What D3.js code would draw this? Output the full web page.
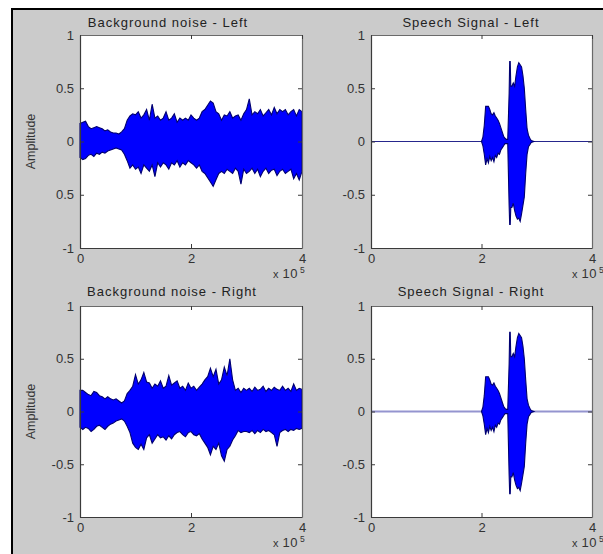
<!DOCTYPE html>
<html>
<head>
<meta charset="utf-8">
<script src="https://cdn.jsdelivr.net/npm/d3@7"></script>
<style>
  html, body { margin: 0; padding: 0; background: #ffffff; }
  svg { display: block; }
  text { font-family: "Liberation Sans", Arial, Helvetica, sans-serif; }
</style>
</head>
<body>
<svg id="chart" width="603" height="554"></svg>
<script>
// ---------------- DATA ----------------
const titles = ["Background noise - Left", "Speech Signal - Left", "Background noise - Right", "Speech Signal - Right"];
const yLabel = "Amplitude";
const xTicks = [0, 200000, 400000];
const xTickLabels = ["0", "2", "4"];
const yTicks = [1, 0.5, 0, -0.5, -1];
const yTickLabelsTopLeft = ["1", "0.5", "0", "0.5", "-1"];
const yTickLabelsOther = ["1", "0.5", "0", "-0.5", "-1"];
const xExponent = "5";

// Noise sample positions (every 5000 samples)
const noiseX = d3.range(0, 400001, 5000);

const noiseLeftUpper = [0.17,0.18,0.19,0.14,0.12,0.13,0.14,0.13,0.12,0.10,0.11,0.09,0.08,0.08,0.07,0.09,0.12,0.20,0.24,0.26,
  0.25,0.28,0.22,0.25,0.30,0.20,0.35,0.22,0.24,0.20,0.22,0.28,0.20,0.22,0.26,0.18,0.22,0.20,0.22,0.20,
  0.25,0.22,0.20,0.22,0.28,0.30,0.34,0.38,0.36,0.28,0.26,0.20,0.25,0.24,0.28,0.22,0.24,0.25,0.20,0.26,
  0.30,0.40,0.25,0.28,0.26,0.30,0.24,0.27,0.30,0.25,0.32,0.26,0.30,0.28,0.30,0.25,0.28,0.30,0.24,0.30,0.28];
const noiseLeftLower = [-0.15,-0.17,-0.16,-0.13,-0.12,-0.14,-0.11,-0.12,-0.10,-0.11,-0.09,-0.08,-0.07,-0.06,-0.07,-0.08,-0.12,-0.18,-0.25,-0.22,
  -0.26,-0.24,-0.30,-0.22,-0.25,-0.28,-0.22,-0.33,-0.20,-0.24,-0.20,-0.22,-0.26,-0.20,-0.22,-0.18,-0.24,-0.20,-0.22,-0.18,
  -0.20,-0.22,-0.25,-0.22,-0.28,-0.30,-0.34,-0.38,-0.42,-0.36,-0.30,-0.28,-0.30,-0.26,-0.28,-0.30,-0.25,-0.28,-0.40,-0.26,
  -0.30,-0.28,-0.25,-0.30,-0.26,-0.33,-0.28,-0.25,-0.30,-0.27,-0.26,-0.32,-0.28,-0.26,-0.30,-0.28,-0.26,-0.35,-0.30,-0.36,-0.28];

const noiseRightUpper = [0.20,0.20,0.18,0.16,0.15,0.19,0.18,0.15,0.14,0.12,0.14,0.12,0.11,0.12,0.10,0.08,0.10,0.17,0.20,0.24,
  0.35,0.26,0.30,0.37,0.28,0.27,0.22,0.26,0.24,0.29,0.22,0.24,0.34,0.25,0.27,0.29,0.22,0.24,0.20,0.27,
  0.22,0.24,0.20,0.23,0.26,0.30,0.33,0.41,0.33,0.40,0.26,0.30,0.42,0.34,0.50,0.30,0.20,0.22,0.18,0.22,
  0.20,0.22,0.19,0.23,0.20,0.21,0.24,0.19,0.22,0.20,0.23,0.21,0.20,0.24,0.20,0.22,0.19,0.26,0.20,0.22,0.21];
const noiseRightLower = [-0.15,-0.17,-0.15,-0.16,-0.19,-0.17,-0.14,-0.13,-0.15,-0.17,-0.14,-0.12,-0.11,-0.09,-0.08,-0.07,-0.09,-0.14,-0.20,-0.30,
  -0.34,-0.36,-0.31,-0.36,-0.25,-0.22,-0.30,-0.26,-0.22,-0.25,-0.24,-0.27,-0.23,-0.26,-0.22,-0.20,-0.19,-0.22,-0.24,-0.20,
  -0.19,-0.22,-0.23,-0.21,-0.26,-0.30,-0.34,-0.41,-0.33,-0.36,-0.30,-0.42,-0.47,-0.36,-0.33,-0.27,-0.23,-0.18,-0.20,-0.19,
  -0.19,-0.20,-0.18,-0.21,-0.18,-0.20,-0.17,-0.19,-0.18,-0.20,-0.22,-0.33,-0.20,-0.18,-0.17,-0.19,-0.17,-0.18,-0.16,-0.17,-0.16];

// Speech sample positions (active region only; the rest of the signal is the zero line)
const speechX = [200000, 202500, 205000, 207500, 210000, 212500, 215000, 217500, 220000, 222500, 225000, 227500, 230000,
  232500, 235000, 237500, 240000, 242500, 245000, 247500, 250000, 251000, 252000, 253000, 255000, 257500, 260000, 262500,
  265000, 267500, 270000, 272500, 275000, 277500, 280000, 282500, 285000, 287500, 290000, 295000];
const speechLeftUpper = [0, 0.04, 0.15, 0.33, 0.33, 0.33, 0.30, 0.26, 0.25, 0.27, 0.24, 0.22, 0.20,
  0.17, 0.13, 0.09, 0.05, 0.03, 0.02, 0.02, 0.45, 0.75, 0.75, 0.52, 0.52, 0.55, 0.52, 0.62,
  0.70, 0.74, 0.72, 0.70, 0.62, 0.50, 0.30, 0.12, 0.06, 0.03, 0.01, 0];
const speechLeftLower = [0, -0.04, -0.12, -0.22, -0.16, -0.20, -0.14, -0.18, -0.15, -0.19, -0.13, -0.15, -0.11,
  -0.12, -0.08, -0.06, -0.04, -0.02, -0.02, -0.02, -0.60, -0.78, -0.78, -0.62, -0.62, -0.58, -0.65, -0.70,
  -0.73, -0.72, -0.75, -0.68, -0.60, -0.52, -0.30, -0.12, -0.05, -0.03, -0.01, 0];
const speechRightUpper = [0, 0.04, 0.15, 0.33, 0.33, 0.33, 0.30, 0.26, 0.25, 0.27, 0.24, 0.22, 0.20,
  0.17, 0.13, 0.09, 0.05, 0.03, 0.02, 0.02, 0.45, 0.75, 0.75, 0.52, 0.52, 0.55, 0.52, 0.62,
  0.70, 0.74, 0.72, 0.70, 0.62, 0.50, 0.30, 0.12, 0.06, 0.03, 0.01, 0];
const speechRightLower = [0, -0.04, -0.12, -0.22, -0.16, -0.20, -0.14, -0.18, -0.15, -0.19, -0.13, -0.15, -0.11,
  -0.12, -0.08, -0.06, -0.04, -0.02, -0.02, -0.02, -0.60, -0.78, -0.78, -0.62, -0.62, -0.58, -0.65, -0.70,
  -0.73, -0.72, -0.75, -0.68, -0.60, -0.52, -0.30, -0.12, -0.05, -0.03, -0.01, 0];

// ---------------- LAYOUT ----------------
const panels = [
  { title: titles[0], xs: noiseX, up: noiseLeftUpper, lo: noiseLeftLower, yLabels: yTickLabelsTopLeft, showYLabel: true,
    left: 80, right: 302, top: 35, bottom: 248, titleX: 168, titleY: 27, expShift: -4, zeroLine: null },
  { title: titles[1], xs: speechX, up: speechLeftUpper, lo: speechLeftLower, yLabels: yTickLabelsOther, showYLabel: false,
    left: 371, right: 592, top: 35, bottom: 248, titleX: 471, titleY: 27, expShift: 5, zeroLine: { color: "#26268c", width: 1.2 } },
  { title: titles[2], xs: noiseX, up: noiseRightUpper, lo: noiseRightLower, yLabels: yTickLabelsOther, showYLabel: true,
    left: 80, right: 302, top: 306, bottom: 517, titleX: 172, titleY: 296, expShift: -4, zeroLine: null },
  { title: titles[3], xs: speechX, up: speechRightUpper, lo: speechRightLower, yLabels: yTickLabelsOther, showYLabel: false,
    left: 371, right: 592, top: 306, bottom: 517, titleX: 471, titleY: 296, expShift: 5, zeroLine: { color: "#9494cf", width: 2.2 } }
];

const svg = d3.select("#chart");

// figure background and border
svg.append("rect").attr("x", 0).attr("y", 0).attr("width", 603).attr("height", 554).attr("fill", "#ffffff");
svg.append("rect").attr("x", 12).attr("y", 9).attr("width", 600).attr("height", 560)
  .attr("fill", "#cbcbcb").attr("stroke", "#000000").attr("stroke-width", 2);

const axisColor = "#3a3a3a";
const labelColor = "#333333";

panels.forEach(p => {
  const x = d3.scaleLinear().domain([0, 400000]).range([p.left, p.right]);
  const y = d3.scaleLinear().domain([-1, 1]).range([p.bottom, p.top]);
  const g = svg.append("g");

  // plot area
  g.append("rect").attr("x", p.left).attr("y", p.top)
    .attr("width", p.right - p.left).attr("height", p.bottom - p.top).attr("fill", "#ffffff");

  // zero line for speech plots (silent part of the signal)
  if (p.zeroLine) {
    g.append("line").attr("x1", x(0)).attr("x2", x(400000)).attr("y1", y(0)).attr("y2", y(0))
      .attr("stroke", p.zeroLine.color).attr("stroke-width", p.zeroLine.width);
  }

  // waveform envelope
  const data = p.xs.map((v, i) => ({ x: v, hi: p.up[i], lo: p.lo[i] }));
  const area = d3.area().x(d => x(d.x)).y0(d => y(d.lo)).y1(d => y(d.hi));
  g.append("path").datum(data).attr("d", area)
    .attr("fill", "#0000ff").attr("stroke", "#000070").attr("stroke-width", 1.1).attr("stroke-linejoin", "miter");

  // axes
  const yLab = d3.scaleOrdinal().domain(yTicks).range(p.yLabels);
  const axL = d3.axisLeft(y).tickValues(yTicks).tickFormat(d => yLab(d)).tickSizeInner(-4).tickSizeOuter(0).tickPadding(6);
  const axB = d3.axisBottom(x).tickValues(xTicks).tickFormat((d, i) => xTickLabels[i]).tickSizeInner(-4).tickSizeOuter(0).tickPadding(6);
  const axR = d3.axisRight(y).tickValues(yTicks).tickFormat("").tickSizeInner(-4).tickSizeOuter(0);
  const axT = d3.axisTop(x).tickValues(xTicks).tickFormat("").tickSizeInner(-4).tickSizeOuter(0);

  const gl = g.append("g").attr("transform", `translate(${p.left},0)`).call(axL);
  const gb = g.append("g").attr("transform", `translate(0,${p.bottom})`).call(axB);
  const gr = g.append("g").attr("transform", `translate(${p.right},0)`).call(axR);
  const gt = g.append("g").attr("transform", `translate(0,${p.top})`).call(axT);

  [gl, gb, gr, gt].forEach(a => {
    a.selectAll(".domain").attr("stroke", axisColor).attr("stroke-width", 1.2);
    a.selectAll(".tick line").attr("stroke", axisColor);
    a.selectAll("text").attr("fill", labelColor).attr("font-size", 13)
      .attr("font-family", "'Liberation Sans', Arial, sans-serif");
  });
  gr.selectAll(".domain").attr("stroke", "#6a6a6a");
  gt.selectAll(".domain").attr("stroke", "#6a6a6a");

  // title
  g.append("text").attr("x", p.titleX).attr("y", p.titleY).attr("text-anchor", "middle")
    .attr("font-size", 13).attr("letter-spacing", 1).attr("fill", "#222").text(p.title);

  // y label
  if (p.showYLabel) {
    const cy = (p.top + p.bottom) / 2;
    g.append("text").attr("transform", `translate(35,${cy}) rotate(-90)`).attr("text-anchor", "middle")
      .attr("font-size", 12.5).attr("fill", "#333").text(yLabel);
  }

  // exponent label "x 10^5"
  const ex = p.right + p.expShift;
  const xt = g.append("text").attr("x", ex).attr("y", p.bottom + 30).attr("text-anchor", "end")
    .attr("font-size", 13).attr("fill", labelColor).attr("letter-spacing", 0.5);
  xt.append("tspan").attr("font-size", 11).text("x ");
  xt.append("tspan").text("10");
  g.append("text").attr("x", ex + 2).attr("y", p.bottom + 25).attr("font-size", 8.5).attr("fill", labelColor).text(xExponent);
});
</script>
</body>
</html>
